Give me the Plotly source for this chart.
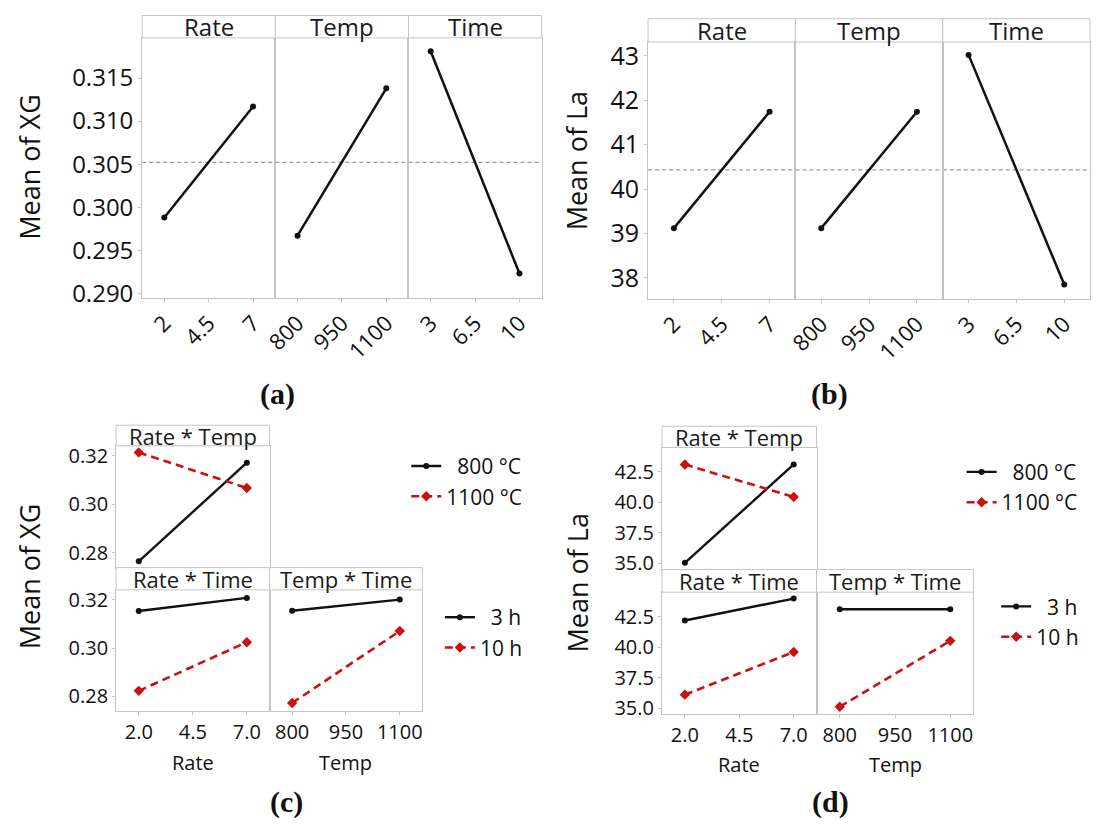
import plotly.graph_objects as go

W, H = 1096, 828
FONT = "Open Sans"
FRAME = "#c4c4c4"
BLACK = "#111111"
RED = "#cc0f0f"
NB = "\u00a0"

# factor levels
rate_levels = [2, 7]
temp_levels = [800, 1100]
time_levels = [3, 10]

# main effects: XG
xg_rate = [0.2988, 0.3117]
xg_temp = [0.2967, 0.3138]
xg_time = [0.3181, 0.2923]
xg_mean = 0.3052

# main effects: La
la_rate = [39.12, 41.74]
la_temp = [39.12, 41.74]
la_time = [43.02, 37.85]
la_mean = 40.43

# interactions: XG
xg_rate_temp_800 = [0.2766, 0.3171]
xg_rate_temp_1100 = [0.3213, 0.3067]
xg_rate_time_3 = [0.3153, 0.3207]
xg_rate_time_10 = [0.2823, 0.3024]
xg_temp_time_3 = [0.3154, 0.3200]
xg_temp_time_10 = [0.2773, 0.3070]

# interactions: La
la_rate_temp_800 = [35.05, 43.11]
la_rate_temp_1100 = [43.11, 40.45]
la_rate_time_3 = [42.18, 43.97]
la_rate_time_10 = [36.10, 39.60]
la_temp_time_3 = [43.10, 43.10]
la_temp_time_10 = [35.11, 40.51]

# tick labels
rate_ticks_main = ["2", "4.5", "7"]
temp_ticks_main = ["800", "950", "1100"]
time_ticks_main = ["3", "6.5", "10"]
rate_ticks_int = ["2.0", "4.5", "7.0"]
temp_ticks_int = ["800", "950", "1100"]
xg_main_yticks = [0.290, 0.295, 0.300, 0.305, 0.310, 0.315]
la_main_yticks = [38, 39, 40, 41, 42, 43]
xg_int_yticks = [0.28, 0.30, 0.32]
la_int_yticks = [35.0, 37.5, 40.0, 42.5]

# legend entries (padded so the labels line up on the right)
temp_names = [NB * 2 + "800 °C", "1100 °C"]
time_names = [NB * 2 + "3 h", "10 h"]


def px(x):
    return x / W


def py(y):
    return 1 - y / H


def mid_levels(levels):
    return [levels[0], (levels[0] + levels[1]) / 2, levels[1]]


def padded(levels, frac):
    span = levels[1] - levels[0]
    return [levels[0] - frac * span, levels[1] + frac * span]


fig = go.Figure()
layout = {}
shapes = []
annotations = []
counter = [0]


def add_panel(left, right, top, bottom, strip_top, strip_text, strip_size,
              levels, pad, xtext, xangle, xfont, show_x,
              yrange, yticks, yfmt, show_y, yfont):
    counter[0] += 1
    i = counter[0]
    sx = "" if i == 1 else str(i)
    xref, yref = "x" + sx, "y" + sx
    layout["xaxis" + sx] = dict(
        domain=[px(left), px(right)], anchor=yref, range=padded(levels, pad),
        tickvals=mid_levels(levels), ticktext=xtext, tickangle=xangle,
        showticklabels=show_x, tickfont=dict(size=xfont),
        ticks="outside" if show_x else "", ticklen=3, tickcolor=FRAME,
        showline=True, mirror=True, linecolor=FRAME, linewidth=1,
        showgrid=False, zeroline=False, fixedrange=True,
    )
    layout["yaxis" + sx] = dict(
        domain=[py(bottom), py(top)], anchor=xref, range=yrange,
        tickvals=yticks, ticktext=[format(v, yfmt) for v in yticks],
        showticklabels=show_y, tickfont=dict(size=yfont),
        ticks="outside" if show_y else "", ticklen=3, tickcolor=FRAME,
        showline=True, mirror=True, linecolor=FRAME, linewidth=1,
        showgrid=False, zeroline=False, fixedrange=True,
    )
    shapes.append(dict(type="rect", xref=xref + " domain", yref="paper",
                       x0=0, x1=1, y0=py(top), y1=py(strip_top),
                       line=dict(color=FRAME, width=1), fillcolor="white"))
    annotations.append(dict(text=strip_text, xref=xref + " domain", yref="paper",
                            x=0.5, y=py((top + strip_top) / 2), showarrow=False,
                            xanchor="center", yanchor="middle",
                            font=dict(size=strip_size, color="#1a1a1a")))
    return xref, yref


def main_line(xref, yref, xs, ys):
    fig.add_trace(go.Scatter(
        x=xs, y=ys, xaxis=xref, yaxis=yref, mode="lines+markers",
        line=dict(color=BLACK, width=2.5),
        marker=dict(symbol="circle", size=6, color=BLACK),
        showlegend=False, hoverinfo="skip"))


def mean_line(xref, yref, value):
    shapes.append(dict(type="line", xref=xref + " domain", yref=yref,
                       x0=0, x1=1, y0=value, y1=value, layer="below",
                       line=dict(color="#9c9c9c", width=1.3, dash="4px,3px")))


def pair_lines(xref, yref, xs, ys_a, ys_b, names, legend, show):
    fig.add_trace(go.Scatter(
        x=xs, y=ys_a, xaxis=xref, yaxis=yref, mode="lines+markers",
        name=names[0], legend=legend, showlegend=show,
        line=dict(color=BLACK, width=2.4),
        marker=dict(symbol="circle", size=6, color=BLACK), hoverinfo="skip"))
    fig.add_trace(go.Scatter(
        x=xs, y=ys_b, xaxis=xref, yaxis=yref, mode="lines+markers",
        name=names[1], legend=legend, showlegend=show,
        line=dict(color=RED, width=2.6, dash="8px,5px"),
        marker=dict(symbol="diamond", size=8, color=RED), hoverinfo="skip"))


# ---- (a) main effects for XG ----
a_l, a_r, a_t, a_b, a_s = 130.7, 535.0, 34.5, 299.0, 11.7
a_w = (a_r - a_l) / 3
xg_range = [0.28951, 0.31966]
for k, (lv, txt, ys, lab) in enumerate([
        (rate_levels, rate_ticks_main, xg_rate, "Rate"),
        (temp_levels, temp_ticks_main, xg_temp, "Temp"),
        (time_levels, time_ticks_main, xg_time, "Time")]):
    xr, yr = add_panel(a_l + k * a_w, a_l + (k + 1) * a_w, a_t, a_b, a_s, lab, 24,
                       lv, 0.25, txt, -45, 22, True,
                       xg_range, xg_main_yticks, ".3f", k == 0, 24)
    mean_line(xr, yr, xg_mean)
    main_line(xr, yr, lv, ys)

# ---- (b) main effects for La ----
b_l, b_r, b_t, b_b, b_s = 642.7, 1090.0, 38.7, 300.0, 15.0
b_w = (b_r - b_l) / 3
la_range = [37.535, 43.31]
for k, (lv, txt, ys, lab) in enumerate([
        (rate_levels, rate_ticks_main, la_rate, "Rate"),
        (temp_levels, temp_ticks_main, la_temp, "Temp"),
        (time_levels, time_ticks_main, la_time, "Time")]):
    xr, yr = add_panel(b_l + k * b_w, b_l + (k + 1) * b_w, b_t, b_b, b_s, lab, 24,
                       lv, 0.27, txt, -45, 22, True,
                       la_range, la_main_yticks, ".0f", k == 0, 25)
    mean_line(xr, yr, la_mean)
    main_line(xr, yr, lv, ys)

# ---- (c) interactions for XG ----
c_l, c_m, c_r = 104.3, 259.6, 414.3
c_s1, c_t1, c_b1 = 429.0, 450.0, 574.0
c_s2, c_t2, c_b2 = 574.0, 596.7, 720.0
xg_int_range = [0.274, 0.324]
xr, yr = add_panel(c_l, c_m, c_t1, c_b1, c_s1, "Rate * Temp", 22,
                   rate_levels, 0.21, rate_ticks_int, 0, 20, False,
                   xg_int_range, xg_int_yticks, ".2f", True, 20)
pair_lines(xr, yr, rate_levels, xg_rate_temp_800, xg_rate_temp_1100, temp_names, "legend", True)
xr, yr = add_panel(c_l, c_m, c_t2, c_b2, c_s2, "Rate * Time", 22,
                   rate_levels, 0.21, rate_ticks_int, 0, 20, True,
                   xg_int_range, xg_int_yticks, ".2f", True, 20)
pair_lines(xr, yr, rate_levels, xg_rate_time_3, xg_rate_time_10, time_names, "legend2", True)
xr, yr = add_panel(c_m, c_r, c_t2, c_b2, c_s2, "Temp * Time", 22,
                   temp_levels, 0.21, temp_ticks_int, 0, 20, True,
                   xg_int_range, xg_int_yticks, ".2f", False, 20)
pair_lines(xr, yr, temp_levels, xg_temp_time_3, xg_temp_time_10, time_names, "legend2", False)

# ---- (d) interactions for La ----
d_l, d_m, d_r = 656.8, 813.2, 972.0
d_s1, d_t1, d_b1 = 430.0, 451.7, 576.0
d_s2, d_t2, d_b2 = 576.0, 599.0, 723.3
la_int_range = [34.5, 44.5]
xr, yr = add_panel(d_l, d_m, d_t1, d_b1, d_s1, "Rate * Temp", 22,
                   rate_levels, 0.21, rate_ticks_int, 0, 20, False,
                   la_int_range, la_int_yticks, ".1f", True, 20)
pair_lines(xr, yr, rate_levels, la_rate_temp_800, la_rate_temp_1100, temp_names, "legend3", True)
xr, yr = add_panel(d_l, d_m, d_t2, d_b2, d_s2, "Rate * Time", 22,
                   rate_levels, 0.21, rate_ticks_int, 0, 20, True,
                   la_int_range, la_int_yticks, ".1f", True, 20)
pair_lines(xr, yr, rate_levels, la_rate_time_3, la_rate_time_10, time_names, "legend4", True)
xr, yr = add_panel(d_m, d_r, d_t2, d_b2, d_s2, "Temp * Time", 22,
                   temp_levels, 0.21, temp_ticks_int, 0, 20, True,
                   la_int_range, la_int_yticks, ".1f", False, 20)
pair_lines(xr, yr, temp_levels, la_temp_time_3, la_temp_time_10, time_names, "legend4", False)


def text(t, x, y, size, angle=0, family=FONT, xanchor="center"):
    annotations.append(dict(text=t, x=px(x), y=py(y), xref="paper", yref="paper",
                            showarrow=False, textangle=angle, xanchor=xanchor,
                            yanchor="middle", font=dict(size=size, family=family, color="#111111")))


# axis titles
text("Mean of XG", 17, 166, 27, -90)
text("Mean of La", 570, 160, 27, -90)
text("Mean of XG", 17, 583, 27, -90)
text("Mean of La", 571, 590, 27, -90)
text("Rate", (c_l + c_m) / 2, 773, 20)
text("Temp", (c_m + c_r) / 2, 773, 20)
text("Rate", (d_l + d_m) / 2, 775, 20)
text("Temp", (d_m + d_r) / 2, 775, 20)

# panel letters
SERIF = "Liberation Serif"
text("<b>(a)</b>", 268, 397, 30, family=SERIF)
text("<b>(b)</b>", 826, 397, 30, family=SERIF)
text("<b>(c)</b>", 277, 813, 30, family=SERIF)
text("<b>(d)</b>", 827, 813, 30, family=SERIF)

leg = dict(bgcolor="rgba(0,0,0,0)", font=dict(size=21, color="#111111"),
           xanchor="left", yanchor="top", itemwidth=30, tracegroupgap=0,
           orientation="v")
layout["legend"] = dict(leg, x=px(398), y=py(450))
layout["legend2"] = dict(leg, x=px(432), y=py(604))
layout["legend3"] = dict(leg, x=px(960), y=py(456))
layout["legend4"] = dict(leg, x=px(995), y=py(593))

layout.update(
    width=W, height=H, margin=dict(l=0, r=0, t=0, b=0),
    paper_bgcolor="white", plot_bgcolor="white",
    font=dict(family=FONT, color="#111111"),
    shapes=shapes, annotations=annotations,
)
fig.update_layout(layout)
fig.write_html("out.html")
